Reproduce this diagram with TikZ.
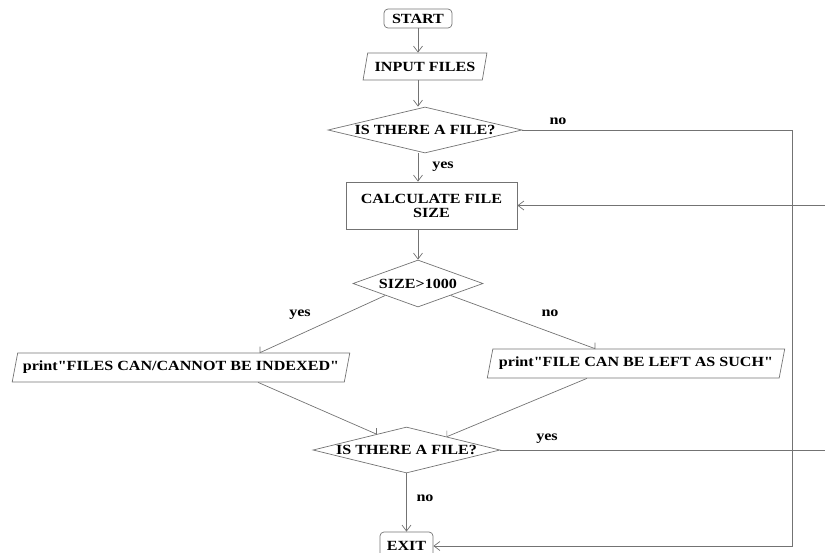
\documentclass[tikz,border=0pt]{standalone}
\usepackage{fontspec}
\setmainfont{Liberation Serif}[FakeStretch=1.15,Ligatures=TeXOff]
\usetikzlibrary{shapes.geometric,arrows.meta,calc}
\begin{document}
\begin{tikzpicture}[x=1pt,y=-1pt,
  font=\fontsize{14}{14}\selectfont\bfseries,
  line/.style={draw=black!55, line width=0.7pt},
  arr/.style={line, -{Straight Barb[length=6pt,width=9pt]}},
  termbox/.style={draw=black!55, line width=0.7pt, rounded corners=4pt, inner sep=0pt},
  iobox/.style={draw=black!55, line width=0.7pt, trapezium, trapezium left angle=70,
    trapezium right angle=110, trapezium stretches=true, inner sep=1pt},
  decbox/.style={draw=black!55, line width=0.7pt, diamond, inner sep=0pt},
  procbox/.style={draw=black!55, line width=0.7pt, rectangle, inner sep=0pt, align=center},
  lbl/.style={inner sep=0pt}]
\useasboundingbox (0,0) rectangle (825,552);
\clip (0,0) rectangle (825,552);
\coordinate (rail) at (792,0);
\coordinate (rightedge) at (825,0);

\node[termbox, minimum width=68pt, minimum height=19pt] (start) at (418,18.5) {START};
\node[iobox, minimum width=124pt, minimum height=27pt] (input) at (425,66.5) {INPUT FILES};
\node[decbox, minimum width=194pt, minimum height=46pt, label=center:{IS THERE A FILE?}] (d1) at (425,130) {\phantom{x}};
\node[procbox, minimum width=171pt, minimum height=47pt] (calc) at (431.5,205.5) {CALCULATE FILE\\SIZE};
\node[decbox, minimum width=130pt, minimum height=47pt, label=center:{SIZE>1000}] (d2) at (418,283.5) {\phantom{x}};
\node[iobox, minimum width=338pt, minimum height=29pt] (p1) at (181,367.5) {print"FILES CAN/CANNOT BE INDEXED"};
\node[iobox, minimum width=298pt, minimum height=29pt] (p2) at (636,363.5) {print"FILE CAN BE LEFT AS SUCH"};
\node[decbox, minimum width=187pt, minimum height=46pt, label=center:{IS THERE A FILE?}] (d3) at (406.5,450) {\phantom{x}};
\node[termbox, minimum width=53pt, minimum height=28pt] (exit) at (406.5,546) {EXIT};

% labels
\node[lbl] (lyes1) at (443,167) {yes};
\node[lbl] (lno1) at (558,121) {no};
\node[lbl] (lyes2) at (300,315) {yes};
\node[lbl] (lno2) at (550,313) {no};
\node[lbl] (lyes3) at (547,439) {yes};
\node[lbl] (lno3) at (425,498) {no};

% main column
\draw[arr] (start.south) -- (start.south |- input.north);
\draw[arr] (start.south |- input.south) -- (start.south |- d1.north);
\draw[arr] (start.south |- d1.south) -- (start.south |- calc.north);
\draw[arr] (start.south |- calc.south) -- (d2.north);

% branches
\draw[line] ($(d2.west)!0.5!(d2.south)$) -- ($(p1.north)+(79,0)$) -- ++(0,-6);
\draw[line] ($(d2.east)!0.5!(d2.south)$) -- ($(p2.north)+(-41,0)$) -- ++(0,-6);
\draw[line] ($(p1.south)+(77,0)$) -- ($(d3.west)!0.68!(d3.north)$) -- ++(0,-6);
\draw[line] ($(p2.south)+(-49,0)$) -- ($(d3.north)!0.43!(d3.east)$) -- ++(0,-6);

\draw[arr] (d3.south) -- (exit.north);
\draw[line] (d3.east) -- (d3.east -| rightedge);
\draw[arr] (d1.east) -- (d1.east -| rail) -- (rail |- exit.east) -- (exit.east);
\draw[arr] (calc.east -| rightedge) -- (calc.east);
\end{tikzpicture}
\end{document}
